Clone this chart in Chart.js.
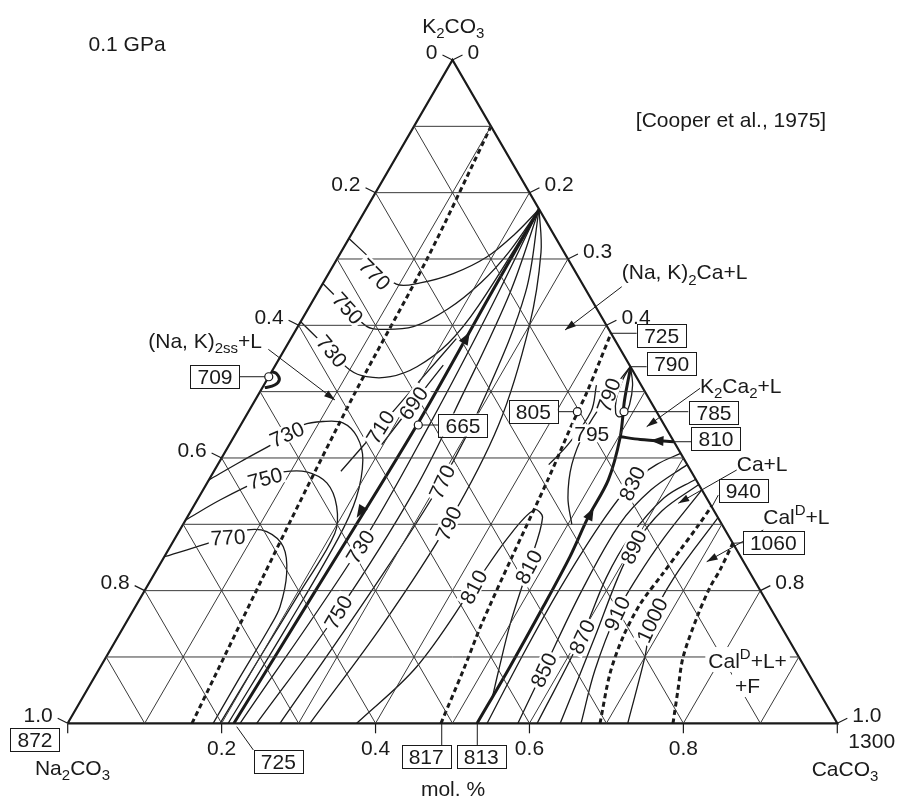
<!DOCTYPE html>
<html lang="es">
<head>
<meta charset="utf-8">
<title>Na2CO3-K2CO3-CaCO3</title>
<script src="https://cdn.jsdelivr.net/npm/chart.js@4.4.1/dist/chart.umd.min.js"></script>
<style>
  html, body { margin: 0; padding: 0; background: #fff; }
  canvas { display: block; }
</style>
</head>
<body>
<canvas id="graficoTernario" width="898" height="797"></canvas>
<script>
// ==========================================
// DIAGRAMA TERNARIO Na2CO3 - K2CO3 - CaCO3 (0.1 GPa)
// puntos de composición: [CaCO3, K2CO3] en fracción molar
// ==========================================

// --- ejes ---
const pasosRejilla = [0.1, 0.2, 0.3, 0.4, 0.5, 0.6, 0.7, 0.8, 0.9];
const marcasIzq = [0, 0.2, 0.4, 0.6, 0.8, 1.0];      // Na2CO3 (0 arriba)
const marcasDer = [0, 0.2, 0.3, 0.4, 0.8, 1.0];      // CaCO3 (0 arriba)
const marcasBase = [0, 0.2, 0.4, 0.6, 0.8, 1.0];     // CaCO3 en la base

// --- límites de campo (discontinuos) ---
const limiteIzq = [[0.1615, 0], [0.1373, 0.3], [0.1241, 0.5], [0.1169, 0.7], [0.1, 0.9]];
const limiteCentro = [[0.485, 0], [0.474, 0.08], [0.463, 0.15], [0.452, 0.25], [0.44, 0.37], [0.43, 0.45], [0.425, 0.5], [0.412, 0.588]];
const limiteCal1 = [[0.6917, 0], [0.667, 0.0754], [0.6565, 0.13], [0.654, 0.1795], [0.6605, 0.226], [0.6652, 0.261], [0.6699, 0.2956], [0.673, 0.327]];
const limiteCal2 = [[0.7865, 0], [0.768, 0.0498], [0.7498, 0.0995], [0.7377, 0.16], [0.732, 0.205], [0.732, 0.231], [0.7285, 0.2715]];

// --- cotécticas (gruesas) ---
const cotecticaIzq = [[0.216, 0], [0.222, 0.2], [0.229, 0.45], [0.226, 0.65], [0.225, 0.775]];
const cotecticaDer = [[0.532, 0], [0.532, 0.085], [0.53, 0.176], [0.527, 0.251], [0.521, 0.31], [0.519, 0.367], [0.502, 0.432], [0.48, 0.487], [0.463, 0.537]];
const cotecticaCal = [[0.5755, 0.4245], [0.53, 0.428], [0.502, 0.432]];
const bucle709 = [[0, 0.53], [0.008, 0.527], [0.016, 0.518], [0.014, 0.51], [0.003, 0.506]];

// --- isotermas ---
const iso770a = [[0, 0.731], [0.048, 0.697], [0.096, 0.662], [0.126, 0.664], [0.162, 0.678], [0.193, 0.703], [0.212, 0.737], [0.225, 0.775]];
const iso750a = [[0, 0.663], [0.045, 0.63], [0.09, 0.598], [0.109, 0.594], [0.15, 0.598], [0.182, 0.625], [0.205, 0.665], [0.218, 0.71], [0.225, 0.775]];
const iso730a = [[0, 0.6055], [0.05, 0.569], [0.1005, 0.5326], [0.127, 0.5225], [0.158, 0.5225], [0.185, 0.5376], [0.208, 0.573], [0.219, 0.63], [0.225, 0.775]];
const iso730b = [[0, 0.367], [0.027, 0.394], [0.068, 0.433], [0.081, 0.45], [0.104, 0.455], [0.131, 0.453], [0.16, 0.432], [0.185, 0.397], [0.205, 0.34], [0.212, 0.28], [0.212, 0.15], [0.2085, 0]];
const iso750b = [[0, 0.3065], [0.03, 0.337], [0.0716, 0.37], [0.0905, 0.379], [0.121, 0.379], [0.156, 0.362], [0.186, 0.327], [0.204, 0.286], [0.203, 0.2], [0.2, 0.1], [0.198, 0]];
const iso770b = [[0, 0.2512], [0.0683, 0.2809], [0.0869, 0.2914], [0.1142, 0.2889], [0.147, 0.2662], [0.1715, 0.2261], [0.188, 0.1758], [0.19, 0.1456], [0.189, 0.07], [0.189, 0]];
const iso710 = [[0.165, 0.38], [0.182, 0.447], [0.2, 0.52], [0.215, 0.58]];
const iso690 = [[0.198, 0.42], [0.208, 0.4824], [0.218, 0.54]];
const iso730c = [[0.224, 0], [0.2467, 0.2662], [0.245, 0.45], [0.237, 0.62], [0.225, 0.775]];
const iso750c = [[0.2456, 0], [0.2673, 0.1678], [0.275, 0.35], [0.265, 0.5], [0.25, 0.65], [0.225, 0.775]];
const iso770c = [[0.2759, 0], [0.295, 0.2], [0.3039, 0.3642], [0.295, 0.5], [0.27, 0.65], [0.225, 0.775]];
const iso790c = [[0.3148, 0], [0.335, 0.15], [0.3438, 0.3015], [0.335, 0.45], [0.3, 0.6], [0.26, 0.71], [0.225, 0.775]];
const iso810 = [[0.3755, 0], [0.4108, 0.0853], [0.4242, 0.2059], [0.432, 0.28], [0.445, 0.322], [0.462, 0.31], [0.4805, 0.2361], [0.5, 0.15], [0.52, 0.08], [0.532, 0.04]];
const iso790d = [[0.462, 0.537], [0.455, 0.495], [0.452, 0.44], [0.46, 0.39], [0.48, 0.34], [0.505, 0.3]];
const iso795 = [[0.432, 0.51], [0.445, 0.47], [0.44, 0.42], [0.43, 0.39]];
const bucle785 = [[0.4624, 0.5376], [0.462, 0.52], [0.468, 0.49], [0.478, 0.468], [0.485, 0.462], [0.491, 0.466], [0.49, 0.48], [0.479, 0.51], [0.4624, 0.5376]];
const iso830 = [[0.545, 0], [0.54, 0.1], [0.538, 0.2], [0.542, 0.3], [0.552, 0.362], [0.57, 0.39], [0.593, 0.407]];
const iso850 = [[0.585, 0], [0.578, 0.08], [0.568, 0.2], [0.567, 0.3], [0.582, 0.352], [0.61, 0.39]];
const iso870 = [[0.61, 0], [0.6026, 0.13], [0.59, 0.22], [0.59, 0.28], [0.605, 0.34], [0.632, 0.368]];
const iso890 = [[0.64, 0], [0.62, 0.13], [0.605, 0.22], [0.6018, 0.266], [0.612, 0.32], [0.64, 0.36]];
const iso910 = [[0.667, 0], [0.645, 0.08], [0.6305, 0.166], [0.63, 0.22], [0.635, 0.28], [0.648, 0.352]];
const iso1000 = [[0.7277, 0], [0.7, 0.1], [0.681, 0.156], [0.678, 0.22], [0.69, 0.31]];

// --- puntos invariantes (círculos) ---
const puntos = [[0, 0.5225], [0.2307, 0.4497], [0.4273, 0.4698], [0.488, 0.4698]];

// ==========================================
// MAQUETACIÓN (coordenadas del gráfico: x base, y = K2CO3)
// ==========================================
const FUENTE = '"Liberation Sans", Arial, sans-serif';
const textos = [
  ['K_{2}CO_{3}', 0.501, 1.0527, 'center'], ['0.1 GPa', 0.0771, 1.0256, 'center'],
  ['[Cooper et al., 1975]', 0.8619, 0.9097, 'center'], ['Na_{2}CO_{3}', 0.0062, -0.0659, 'center'],
  ['CaCO_{3}', 1.01, -0.0674, 'center'], ['1300', 1.0447, -0.0252, 'center'], ['mol. %', 0.5007, -0.0975, 'center'],
  ['(Na, K)_{2ss}+L', 0.2525, 0.5779, 'right'], ['(Na, K)_{2}Ca+L', 0.7199, 0.6808, 'left'],
  ['K_{2}Ca_{2}+L', 0.8216, 0.51, 'left'], ['Ca+L', 0.8693, 0.392, 'left'], ['Cal^{D}+L', 0.9038, 0.3115, 'left']
];
const textosFondo = [['Cal^{D}+L+', 0.8324, 0.0954, 'left'], ['+F', 0.8671, 0.0577, 'left']];
const cajas = [
  ['872', -0.0425, -0.0237], ['725', 0.2737, -0.0576], ['817', 0.4658, -0.0504], ['813', 0.5374, -0.0504],
  ['709', 0.1914, 0.5225], ['665', 0.5136, 0.4497], ['805', 0.605, 0.4698], ['725', 0.7718, 0.5842],
  ['790', 0.7848, 0.5427], ['785', 0.8398, 0.4686], ['810', 0.8424, 0.4297], ['940', 0.8779, 0.3505], ['1060', 0.9168, 0.2726]
];
const guias = [
  [0.2196, -0.0051, 0.2412, -0.0402], [0.486, 0, 0.486, -0.0327], [0.5322, 0, 0.5322, -0.0327],
  [0.2239, 0.5225, 0.2577, 0.5225], [0.4604, 0.4497, 0.4825, 0.4497], [0.6375, 0.4698, 0.6579, 0.4698],
  [0.706, 0.588, 0.7393, 0.588], [0.7312, 0.5376, 0.7523, 0.5376], [0.7267, 0.4698, 0.8064, 0.4698],
  [0.7891, 0.4245, 0.8108, 0.4245], [0.8372, 0.3266, 0.8454, 0.3442], [0.8645, 0.2714, 0.8823, 0.2726]
];
const flechasTexto = [
  [0.2607, 0.5638, 0.3473, 0.4874], [0.7199, 0.6582, 0.6462, 0.5929], [0.8216, 0.505, 0.7523, 0.4472],
  [0.8693, 0.3819, 0.7934, 0.3317], [0.9038, 0.2914, 0.8303, 0.2436]
];
// punta de flecha sobre cotécticas: [c, k] punta, [c, k] hacia atrás
const puntasCotectica = [
  [[0.2275, 0.59], [0.2275, 0.56]], [[0.2205, 0.31], [0.2215, 0.34]],
  [[0.521, 0.325], [0.523, 0.29]], [[0.544, 0.4265], [0.562, 0.4255]]
];
const etiquetasIso = [
  ['770', 0.3993, 0.6774, 45], ['750', 0.3642, 0.6262, 48], ['730', 0.3435, 0.5613, 50],
  ['730', 0.2846, 0.4362, -24], ['750', 0.2564, 0.3698, -15], ['770', 0.2083, 0.2809, -3],
  ['710', 0.4058, 0.4467, -58], ['690', 0.4487, 0.4829, -55], ['730', 0.3798, 0.2662, -58],
  ['750', 0.3512, 0.1678, -60], ['770', 0.486, 0.3642, -65], ['790', 0.4945, 0.3015, -65],
  ['810', 0.527, 0.2059, -62], ['810', 0.5985, 0.2361, -62], ['790', 0.7024, 0.4949, -70],
  ['795', 0.6809, 0.4372, 0], ['830', 0.7329, 0.3618, -65], ['890', 0.7349, 0.2662, -65],
  ['910', 0.7134, 0.1658, -65], ['870', 0.6679, 0.1306, -65], ['850', 0.618, 0.0804, -65], ['1000', 0.7588, 0.1557, -65]
];

// ==========================================
// SERIES PARA CHART.JS
// ==========================================
function serie(pts, ancho, opciones) {
  return Object.assign({
    data: pts.map(([c, k]) => ({ x: c + k / 2, y: k })),
    showLine: true, pointRadius: 0, borderColor: '#1a1a1a', borderWidth: ancho,
    tension: 0, fill: false
  }, opciones || {});
}

const datasets = [];
pasosRejilla.forEach(t => {
  datasets.push(serie([[0, t], [1 - t, t]], 1, { borderColor: '#3a3a3a' }));
  datasets.push(serie([[t, 0], [t, 1 - t]], 1, { borderColor: '#3a3a3a' }));
  datasets.push(serie([[1 - t, 0], [0, 1 - t]], 1, { borderColor: '#3a3a3a' }));
});
[iso770a, iso750a, iso730a, iso730b, iso750b, iso770b, iso710, iso690, iso730c, iso750c, iso770c,
 iso790c, iso810, iso790d, iso795, bucle785, iso830, iso850, iso870, iso890, iso910, iso1000]
  .forEach(p => datasets.push(serie(p, 1.3, { tension: 0.35 })));
[limiteIzq, limiteCentro, limiteCal1, limiteCal2]
  .forEach(p => datasets.push(serie(p, 3, { tension: 0.3, borderDash: [5, 3.5], borderCapStyle: 'butt' })));
datasets.push(serie(cotecticaIzq, 3, { tension: 0.3 }));
datasets.push(serie(cotecticaDer, 3, { tension: 0.3 }));
datasets.push(serie(cotecticaCal, 3, { tension: 0.3 }));
datasets.push(serie(bucle709, 3, { tension: 0.4 }));
datasets.push(serie([[0, 0], [1, 0], [0, 1], [0, 0]], 2.2, { borderJoinStyle: 'miter' }));

// ==========================================
// TEXTOS Y ANOTACIONES
// ==========================================
function trozos(txt) {
  const out = []; const re = /([_^])\{([^}]*)\}|([^_^]+)/g; let m;
  while ((m = re.exec(txt))) {
    if (m[3]) out.push({ t: m[3], m: 0 });
    else out.push({ t: m[2], m: m[1] === '_' ? -1 : 1 });
  }
  return out;
}
function textoRico(ctx, txt, x, yc, align, size) {
  const partes = trozos(txt);
  const fN = size + 'px ' + FUENTE, fS = Math.round(size * 0.7) + 'px ' + FUENTE;
  let ancho = 0;
  partes.forEach(p => { ctx.font = p.m ? fS : fN; p.w = ctx.measureText(p.t).width; ancho += p.w; });
  let x0 = align === 'center' ? x - ancho / 2 : align === 'right' ? x - ancho : x;
  const base = yc + size * 0.36;
  ctx.textAlign = 'left'; ctx.textBaseline = 'alphabetic';
  partes.forEach(p => {
    ctx.font = p.m ? fS : fN;
    const dy = p.m === -1 ? size * 0.28 : p.m === 1 ? -size * 0.42 : 0;
    ctx.fillText(p.t, x0, base + dy);
    x0 += p.w;
  });
  return ancho;
}

const anotaciones = {
  id: 'anotaciones',
  afterDatasetsDraw(chart) {
    const ctx = chart.ctx, sx = chart.scales.x, sy = chart.scales.y;
    const P = (c, k) => [sx.getPixelForValue(c + k / 2), sy.getPixelForValue(k)];
    const Q = (x, y) => [sx.getPixelForValue(x), sy.getPixelForValue(y)];
    const TAM = 21;
    ctx.save();
    ctx.fillStyle = '#1a1a1a'; ctx.strokeStyle = '#1a1a1a'; ctx.lineWidth = 1.2;

    const linea = (a, b) => { ctx.beginPath(); ctx.moveTo(a[0], a[1]); ctx.lineTo(b[0], b[1]); ctx.stroke(); };
    const punta = (tip, desde, largo, medio) => {
      const dx = tip[0] - desde[0], dy = tip[1] - desde[1], d = Math.hypot(dx, dy) || 1;
      const ux = dx / d, uy = dy / d;
      ctx.beginPath();
      ctx.moveTo(tip[0], tip[1]);
      ctx.lineTo(tip[0] - ux * largo - uy * medio, tip[1] - uy * largo + ux * medio);
      ctx.lineTo(tip[0] - ux * largo + uy * medio, tip[1] - uy * largo - ux * medio);
      ctx.closePath(); ctx.fill();
    };

    // marcas de los ejes
    marcasIzq.forEach(v => {
      const n = P(0, 1 - v);
      linea(n, [n[0] - 10, n[1] - 5]);
      textoRico(ctx, v === 0 ? '0' : v.toFixed(1), n[0] - 15, n[1] - 9, 'right', TAM);
    });
    marcasDer.forEach(v => {
      const n = P(v, 1 - v);
      linea(n, [n[0] + 10, n[1] - 5]);
      textoRico(ctx, v === 0 ? '0' : v.toFixed(1), n[0] + 15, n[1] - 9, 'left', TAM);
    });
    marcasBase.forEach(v => {
      const n = P(v, 0);
      linea(n, [n[0], n[1] + 10]);
      if (v > 0 && v < 1) textoRico(ctx, v.toFixed(1), n[0], n[1] + 24, 'center', TAM);
    });

    // textos libres
    textos.forEach(([t, x, y, a]) => { const p = Q(x, y); textoRico(ctx, t, p[0], p[1], a, TAM); });
    textosFondo.forEach(([t, x, y, a]) => {
      const p = Q(x, y);
      ctx.fillStyle = '#fff';
      const w = trozos(t).reduce((s, q) => { ctx.font = (q.m ? 15 : TAM) + 'px ' + FUENTE; return s + ctx.measureText(q.t).width; }, 0);
      ctx.fillRect(p[0] - 3, p[1] - 13, w + 6, 25);
      ctx.fillStyle = '#1a1a1a';
      textoRico(ctx, t, p[0], p[1], a, TAM);
    });

    // guías y flechas de texto
    ctx.lineWidth = 1;
    guias.forEach(([x1, y1, x2, y2]) => linea(Q(x1, y1), Q(x2, y2)));
    flechasTexto.forEach(([x1, y1, x2, y2]) => {
      const a = Q(x1, y1), b = Q(x2, y2);
      linea(a, b); punta(b, a, 11, 3.5);
    });
    puntasCotectica.forEach(([t, d]) => punta(P(t[0], t[1]), P(d[0], d[1]), 13, 5));

    // etiquetas de isotermas
    etiquetasIso.forEach(([t, x, y, ang]) => {
      const p = Q(x, y);
      ctx.save();
      ctx.translate(p[0], p[1]); ctx.rotate(ang * Math.PI / 180);
      ctx.font = TAM + 'px ' + FUENTE;
      const w = ctx.measureText(t).width;
      ctx.fillStyle = '#fff'; ctx.fillRect(-w / 2 - 2, -9, w + 4, 18);
      ctx.fillStyle = '#1a1a1a';
      textoRico(ctx, t, 0, 0, 'center', TAM);
      ctx.restore();
    });

    // cajas con temperaturas
    cajas.forEach(([t, x, y]) => {
      const p = Q(x, y);
      ctx.font = TAM + 'px ' + FUENTE;
      const w = ctx.measureText(t).width + 14, h = 23;
      ctx.fillStyle = '#fff'; ctx.fillRect(p[0] - w / 2, p[1] - h / 2, w, h);
      ctx.strokeRect(Math.round(p[0] - w / 2) + 0.5, Math.round(p[1] - h / 2) + 0.5, Math.round(w), h);
      ctx.fillStyle = '#1a1a1a';
      textoRico(ctx, t, p[0], p[1], 'center', TAM);
    });

    // puntos invariantes
    puntos.forEach(([c, k]) => {
      const p = P(c, k);
      ctx.beginPath(); ctx.arc(p[0], p[1], 4, 0, Math.PI * 2);
      ctx.fillStyle = '#fff'; ctx.fill(); ctx.lineWidth = 1.2; ctx.stroke();
    });
    ctx.restore();
  }
};

new Chart(document.getElementById('graficoTernario').getContext('2d'), {
  type: 'scatter',
  data: { datasets },
  options: {
    responsive: false, animation: false, events: [],
    layout: { padding: 0 },
    plugins: { legend: { display: false }, tooltip: { enabled: false } },
    scales: {
      x: { type: 'linear', min: -0.08797, max: 1.07887, display: false },
      y: { type: 'linear', min: -0.11111, max: 1.09046, display: false }
    }
  },
  plugins: [anotaciones]
});
</script>
</body>
</html>
